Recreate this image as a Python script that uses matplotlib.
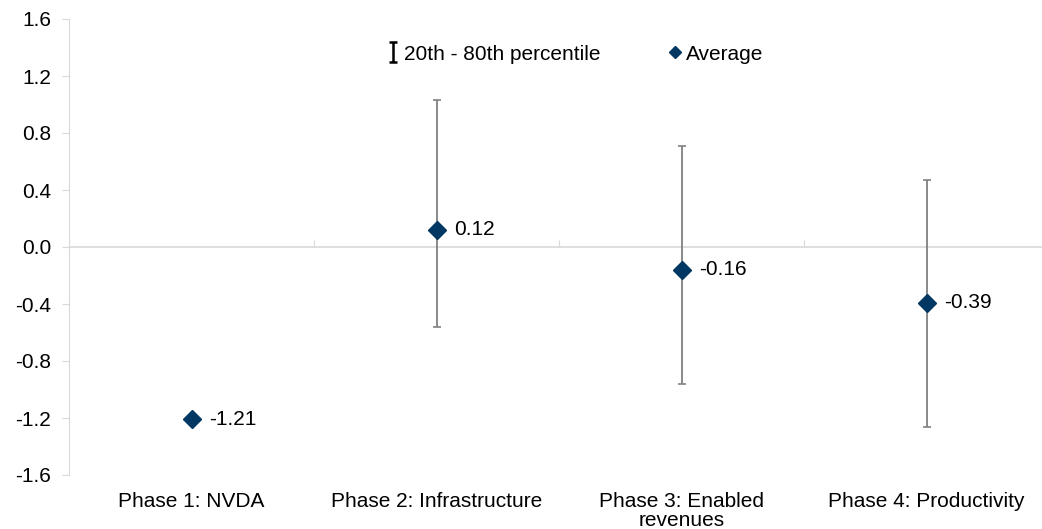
import numpy as np
import matplotlib
matplotlib.use("Agg")
import matplotlib.pyplot as plt
from matplotlib.lines import Line2D
from matplotlib.path import Path

plt.rcParams['font.family'] = ['Liberation Sans', 'DejaVu Sans']

# Data
categories = ["Phase 1: NVDA", "Phase 2: Infrastructure", "Phase 3: Enabled\nrevenues", "Phase 4: Productivity"]
average = [-1.21, 0.12, -0.16, -0.39]
p20 = [np.nan, -0.56, -0.96, -1.26]
p80 = [np.nan, 1.03, 0.71, 0.47]
yticks = [-1.6, -1.2, -0.8, -0.4, 0.0, 0.4, 0.8, 1.2, 1.6]

navy = "#003763"
grey_bar = "#808080"
light = "#d9d9d9"
fs = 15

fig = plt.figure(figsize=(10.42, 5.29), dpi=100)
ax = fig.add_axes([69 / 1042, 1 - 475 / 529, 980 / 1042, 456 / 529])

x = np.arange(len(categories))
avg = np.array(average)
lo = np.array(p20)
hi = np.array(p80)

# zero line
ax.axhline(0, color=light, linewidth=1.2, zorder=1)

# percentile range bars
ax.errorbar(x, avg, yerr=[avg - lo, hi - avg], fmt='none', ecolor=grey_bar,
            elinewidth=1.3, capsize=3, capthick=1.2, zorder=2)
ax.plot(x, avg, linestyle='none', marker='D', markersize=9, color=navy, zorder=3)

for xi, v in zip(x, average):
    ax.annotate(f"{v:.2f}", (xi, v), xytext=(13, 0), textcoords='offset points',
                ha='left', va='center', fontsize=fs, color='black')

ax.set_xlim(-0.5, len(categories) - 0.5)
ax.set_ylim(-1.6, 1.6)
ax.set_yticks(yticks)
ax.set_yticklabels([f"{t:.1f}" for t in yticks], fontsize=fs)
ax.tick_params(axis='y', length=5, color=light, pad=8)

ax.set_xticks(x)
ax.set_xticklabels(categories, fontsize=fs, linespacing=1.0)
ax.tick_params(axis='x', length=0, pad=12)

for s in ['top', 'right', 'bottom']:
    ax.spines[s].set_visible(False)
ax.spines['left'].set_color(light)

# category separators on the zero line
sec = ax.secondary_xaxis(0.5)
sec.set_xticks(x[:-1] + 0.5)
sec.set_xticklabels([])
sec.tick_params(length=5, color=light, direction='out')
for s in sec.spines.values():
    s.set_visible(False)

# legend
range_marker = Path([(-0.4, -1), (0.4, -1), (0, -1), (0, 1), (-0.4, 1), (0.4, 1)],
                    [Path.MOVETO, Path.LINETO, Path.MOVETO, Path.LINETO, Path.MOVETO, Path.LINETO])
handles = [
    Line2D([], [], linestyle='none', marker=range_marker, markersize=14,
           markeredgewidth=1.8, color='black', markerfacecolor='none'),
    Line2D([], [], linestyle='none', marker='D', markersize=6.5, color=navy),
]
ax.legend(handles, ["20th - 80th percentile", "Average"], loc='center',
          bbox_to_anchor=(0.517, 0.923), ncol=2, frameon=False, fontsize=fs,
          handlelength=0.5, handletextpad=0.3, columnspacing=3.3)

fig.savefig("out.png", dpi=100)
